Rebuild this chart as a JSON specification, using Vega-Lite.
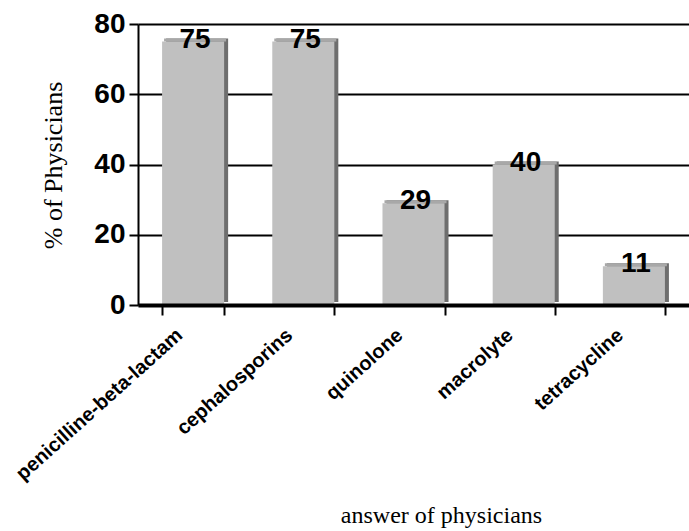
{
  "$schema": "https://vega.github.io/schema/vega-lite/v6.json",
  "width": 551,
  "height": 281,
  "autosize": "none",
  "padding": {"left": 138, "top": 24, "right": 0, "bottom": 226},
  "background": "white",
  "config": {"view": {"stroke": null}},
  "data": {
    "values": [
      {"answer": "penicilline-beta-lactam", "pct": 75},
      {"answer": "cephalosporins", "pct": 75},
      {"answer": "quinolone", "pct": 29},
      {"answer": "macrolyte", "pct": 40},
      {"answer": "tetracycline", "pct": 11}
    ]
  },
  "layer": [
    {
      "mark": {"type": "bar", "color": "#6e6e6e", "xOffset": 4, "yOffset": -3},
      "encoding": {
        "x": {
          "field": "answer", "type": "nominal", "sort": null,
          "scale": {"paddingInner": 0.437, "paddingOuter": 0.2185},
          "axis": {
            "title": "answer of physicians",
            "titleFont": "Liberation Serif", "titleFontSize": 24, "titleFontWeight": "normal", "titleColor": "black",
            "titleX": 303, "titleY": 217, "titleBaseline": "alphabetic", "titleAlign": "center",
            "labelFont": "Liberation Sans", "labelFontWeight": "bold", "labelFontSize": 20, "labelColor": "black",
            "labelAngle": -42, "labelAlign": "right", "labelBaseline": "middle", "labelPadding": 17, "labelOffset": -14,
            "labelLimit": 0, "labelOverlap": false,
            "tickBand": "extent", "tickSize": 10, "tickWidth": 2, "tickColor": "black",
            "domainColor": "black", "domainWidth": 4, "zindex": 1
          }
        },
        "y": {
          "field": "pct", "type": "quantitative",
          "scale": {"domain": [0, 80]},
          "axis": {
            "title": "% of Physicians",
            "titleFont": "Liberation Serif", "titleFontSize": 26, "titleFontWeight": "normal", "titleColor": "black",
            "titleX": -85, "titleY": 141, "titleAngle": -90, "titleAlign": "center", "titleBaseline": "middle",
            "values": [0, 20, 40, 60, 80],
            "labelFont": "Liberation Sans", "labelFontWeight": "bold", "labelFontSize": 28, "labelColor": "black",
            "labelPadding": 4, "tickSize": 9, "tickWidth": 2, "tickColor": "black",
            "domainColor": "black", "domainWidth": 2,
            "grid": true, "gridColor": "black", "gridWidth": 2, "gridOpacity": 1
          }
        }
      }
    },
    {
      "mark": {"type": "bar", "color": "#a8a8a8", "xOffset": 2, "yOffset": -3},
      "encoding": {
        "x": {"field": "answer", "type": "nominal", "sort": null},
        "y": {"field": "pct", "type": "quantitative"},
        "y2": {"field": "pct"}
      }
    },
    {
      "mark": {"type": "bar", "color": "#c0c0c0"},
      "encoding": {
        "x": {"field": "answer", "type": "nominal", "sort": null},
        "y": {"field": "pct", "type": "quantitative"}
      }
    },
    {
      "mark": {"type": "text", "font": "Liberation Sans", "fontWeight": "bold", "fontSize": 28, "color": "black", "baseline": "middle", "dy": -2, "dx": 2},
      "encoding": {
        "x": {"field": "answer", "type": "nominal", "sort": null},
        "y": {"field": "pct", "type": "quantitative"},
        "text": {"field": "pct", "type": "quantitative"}
      }
    }
  ]
}
